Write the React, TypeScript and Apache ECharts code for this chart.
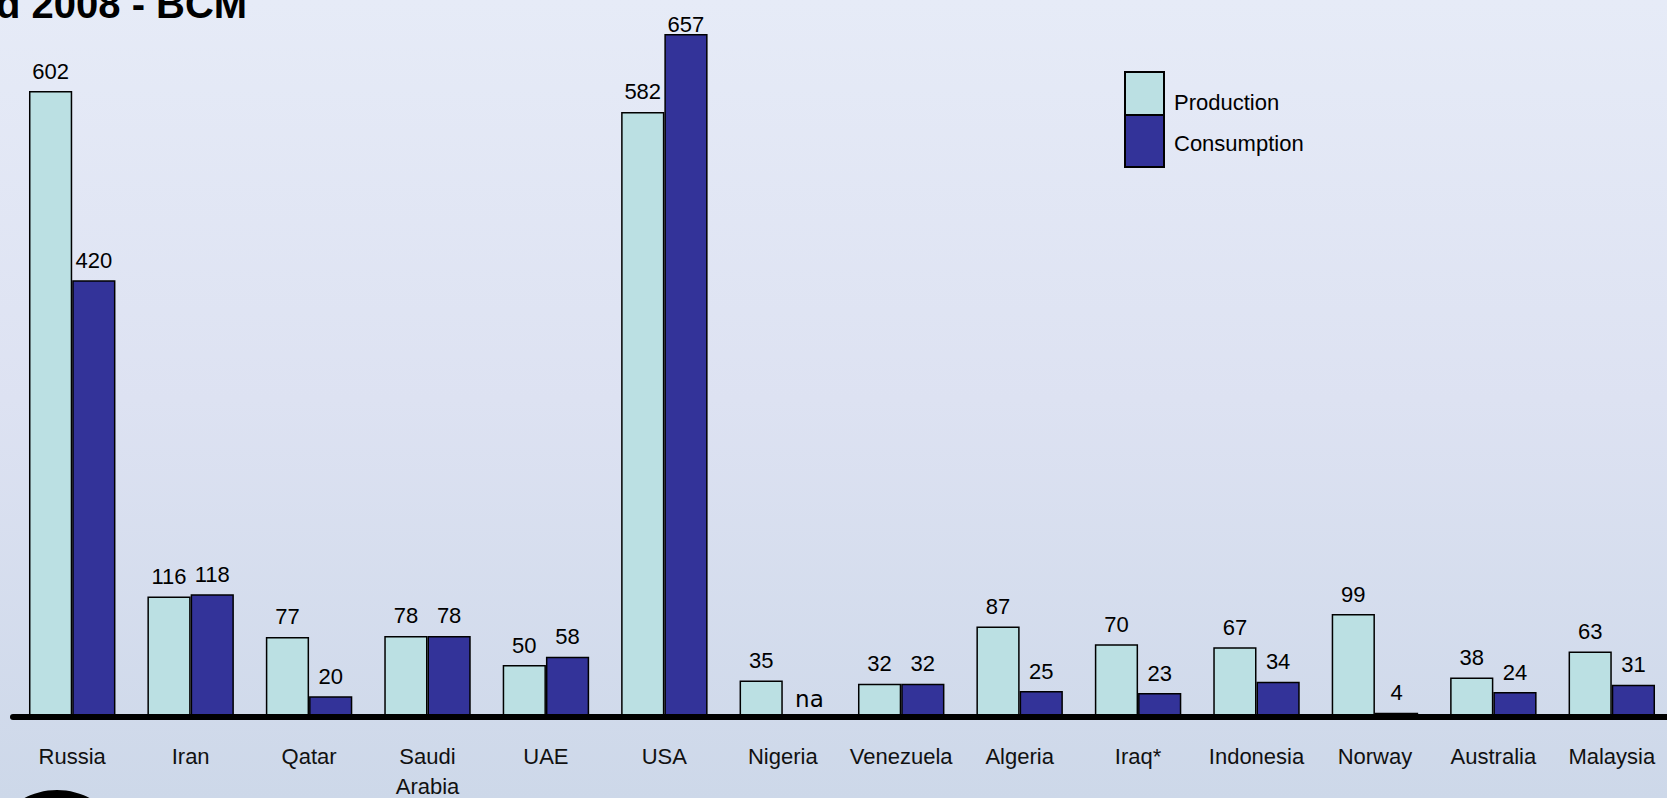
import React, { useEffect, useRef } from "react";
import * as echarts from "echarts";

const categories = [
  "Russia", "Iran", "Qatar", "Saudi\nArabia", "UAE", "USA", "Nigeria",
  "Venezuela", "Algeria", "Iraq*", "Indonesia", "Norway", "Australia", "Malaysia",
];
const production = [602, 116, 77, 78, 50, 582, 35, 32, 87, 70, 67, 99, 38, 63];
const consumption: (number | null)[] = [420, 118, 20, 78, 58, 657, null, 32, 25, 23, 34, 4, 24, 31];
const titleText = "d 2008 - BCM";
const seriesNames = ["Production", "Consumption"];
const seriesColors = ["#bbe0e3", "#333399"];

const FONT = "'Liberation Sans', Arial, sans-serif";

export default function App() {
  const ref = useRef<HTMLDivElement>(null);
  useEffect(() => {
    if (!ref.current) return;
    const chart = echarts.init(ref.current, undefined, { renderer: "svg" });
    const consData = consumption.map((v) => {
      if (v === null) {
        return {
          value: 0,
          label: {
            formatter: "na",
            fontFamily: "'DejaVu Sans', sans-serif",
            fontSize: 23,
            distance: 6,
            offset: [5, 0],
          },
        };
      }
      if (v === 657) {
        return { value: v, label: { distance: -2 } };
      }
      return v;
    });
    const labelStyle = {
      show: true,
      position: "top" as const,
      distance: 9,
      fontFamily: FONT,
      fontSize: 22,
      color: "#000",
    };
    chart.setOption({
      animation: false,
      backgroundColor: {
        type: "linear", x: 0, y: 0, x2: 0, y2: 1,
        colorStops: [
          { offset: 0, color: "#e6ebf7" },
          { offset: 0.5, color: "#dde2f2" },
          { offset: 1, color: "#cdd8e9" },
        ],
      },
      grid: { left: 13, width: 1658, top: 10, bottom: 81, outerBoundsMode: "none", containLabel: false },
      xAxis: {
        type: "category",
        data: categories,
        z: 5,
        axisLine: { lineStyle: { color: "#000", width: 6, cap: "round" } },
        axisTick: { show: false },
        axisLabel: {
          fontFamily: FONT,
          fontSize: 22,
          color: "#111",
          margin: 24,
          lineHeight: 30,
          interval: 0,
        },
      },
      yAxis: { type: "value", min: 0, max: 680, show: false, splitLine: { show: false } },
      series: [
        {
          name: seriesNames[0],
          type: "bar",
          data: production,
          barGap: "0%",
          barCategoryGap: "27%",
          itemStyle: { color: seriesColors[0], borderColor: "#000", borderWidth: 1.5 },
          label: labelStyle,
        },
        {
          name: seriesNames[1],
          type: "bar",
          data: consData,
          itemStyle: { color: seriesColors[1], borderColor: "#000", borderWidth: 1.5 },
          label: labelStyle,
        },
      ],
      graphic: [
        {
          type: "text",
          left: -4,
          top: -16,
          style: {
            text: titleText,
            font: "bold 40px 'Liberation Sans', Arial, sans-serif",
            fill: "#000",
          },
        },
        {
          type: "circle",
          shape: { cx: 57, cy: 860, r: 70 },
          style: { fill: "#000" },
        },
        {
          type: "rect",
          shape: { x: 1125, y: 72, width: 39, height: 43 },
          style: { fill: seriesColors[0], stroke: "#000", lineWidth: 2 },
        },
        {
          type: "rect",
          shape: { x: 1125, y: 115, width: 39, height: 52 },
          style: { fill: seriesColors[1], stroke: "#000", lineWidth: 2 },
        },
        {
          type: "text",
          x: 1174,
          y: 102,
          style: {
            text: seriesNames[0],
            font: "22px 'Liberation Sans', Arial, sans-serif",
            fill: "#000",
            verticalAlign: "middle",
          },
        },
        {
          type: "text",
          x: 1174,
          y: 143,
          style: {
            text: seriesNames[1],
            font: "22px 'Liberation Sans', Arial, sans-serif",
            fill: "#000",
            verticalAlign: "middle",
          },
        },
      ],
    });
    return () => chart.dispose();
  }, []);
  return (
    <div
      ref={ref}
      style={{ position: "absolute", left: 0, top: 0, width: 1667, height: 798 }}
    />
  );
}
